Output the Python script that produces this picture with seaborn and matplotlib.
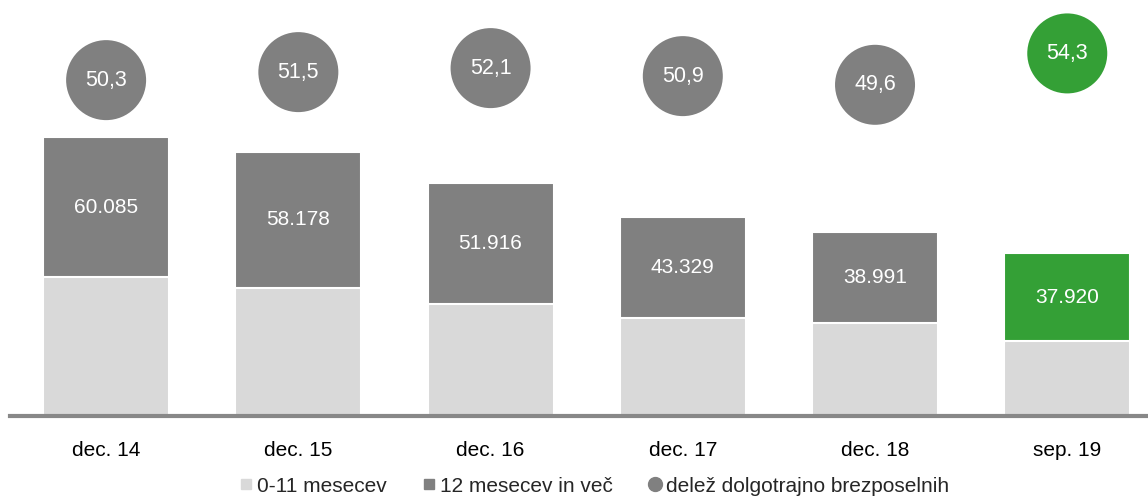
import numpy as np
import pandas as pd
import matplotlib
matplotlib.use("Agg")
import matplotlib.pyplot as plt
from matplotlib.lines import Line2D
import seaborn as sns

# ----- Data -----
periods = ["dec. 14", "dec. 15", "dec. 16", "dec. 17", "dec. 18", "sep. 19"]
long_term = [60085, 58178, 51916, 43329, 38991, 37920]      # 12 mesecev in več
short_term = [59370, 54790, 47730, 41800, 39620, 31910]     # 0-11 mesecev
share = [50.3, 51.5, 52.1, 50.9, 49.6, 54.3]                # delež dolgotrajno brezposelnih

LIGHT = "#d9d9d9"
DARK = "#808080"
GREEN = "#34a036"

df = pd.DataFrame({"period": periods, "long": long_term, "short": short_term, "share": share})
df["total"] = df["long"] + df["short"]

sns.set_style("white")
plt.rcParams["font.family"] = ["Liberation Sans", "DejaVu Sans"]

fig = plt.figure(figsize=(11.48, 4.97), dpi=100)
ax = fig.add_axes([10 / 1148, 81 / 497, 1 - 10 / 1148, 416 / 497])

top_colors = [DARK] * 5 + [GREEN]

# top segment (drawn as full height) then the lower segment over it
sns.barplot(data=df, x="period", y="total", hue="period", palette=top_colors,
            legend=False, width=0.655, edgecolor="white", linewidth=1.5,
            saturation=1, ax=ax)
sns.barplot(data=df, x="period", y="short", color=LIGHT, width=0.655,
            edgecolor="white", linewidth=1.5, saturation=1, ax=ax)

for i, row in df.iterrows():
    ax.text(i, row["short"] + row["long"] / 2, f"{row['long']:,}".replace(",", "."),
            ha="center", va="center", color="white", fontsize=15)

ax.set_ylim(0, 178000)
ax.set_xlim(-0.5, 5.42)
ax.set_xlabel("")
ax.set_ylabel("")
ax.set_yticks([])
ax.tick_params(axis="x", length=0, labelsize=15, pad=18, colors="black")
for s in ["top", "left", "right"]:
    ax.spines[s].set_visible(False)
ax.spines["bottom"].set_color("#888888")
ax.spines["bottom"].set_linewidth(3)
ax.spines["bottom"].set_zorder(5)

# share circles on a secondary axis
ax2 = ax.twinx()
circle_colors = [DARK] * 5 + [GREEN]
sns.scatterplot(data=df, x="period", y="share", hue="period", palette=circle_colors,
                s=57.6 ** 2, edgecolor="none", legend=False, ax=ax2)
for i, v in enumerate(share):
    ax2.text(i, v, f"{v:.1f}".replace(".", ","), ha="center", va="center",
             color="white", fontsize=15.5)
ax2.set_ylim(0, 62.3)
ax2.set_yticks([])
ax2.set_ylabel("")
for s in ["top", "left", "right", "bottom"]:
    ax2.spines[s].set_visible(False)

handles = [
    Line2D([], [], marker="s", linestyle="none", color=LIGHT, markersize=7.5),
    Line2D([], [], marker="s", linestyle="none", color=DARK, markersize=7.5),
    Line2D([], [], marker="o", linestyle="none", color=DARK, markersize=10),
]
labels = ["0-11 mesecev", "12 mesecev in več", "delež dolgotrajno brezposelnih"]
fig.legend(handles, labels, loc="lower center", bbox_to_anchor=(0.516, -0.035), ncol=3,
           frameon=False, fontsize=15, handletextpad=0.05, columnspacing=1.5,
           handlelength=1.0)

fig.savefig("out.png", dpi=100)
